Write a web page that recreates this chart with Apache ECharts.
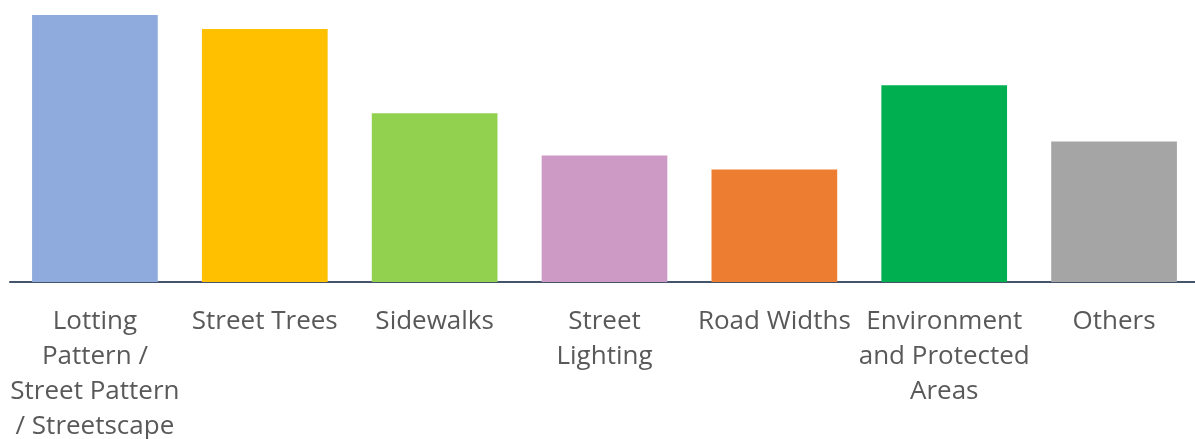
<!DOCTYPE html>
<html>
<head>
<meta charset="utf-8">
<script src="https://cdn.jsdelivr.net/npm/echarts@6/dist/echarts.min.js"></script>
<style>html,body{margin:0;padding:0;background:#fff;}#c{width:1195px;height:439px;}</style>
</head>
<body>
<div id="c"></div>
<script>
const categories = [
  "Lotting\nPattern /\nStreet Pattern\n/ Streetscape",
  "Street Trees",
  "Sidewalks",
  "Street\nLighting",
  "Road Widths",
  "Environment\nand Protected\nAreas",
  "Others"
];
const values = [19, 18, 12, 9, 8, 14, 10];
const barColors = ["#8FAADC", "#FFC000", "#92D050", "#CC9AC4", "#ED7D31", "#00B050", "#A5A5A5"];

const chart = echarts.init(document.getElementById('c'), null, {renderer: 'canvas'});
chart.setOption({
  animation: false,
  grid: {left: 10, right: -4, top: 15, bottom: 157, containLabel: false, outerBoundsMode: 'none'},
  xAxis: {
    type: 'category',
    data: categories,
    axisLine: {show: true, lineStyle: {color: '#44546A', width: 2}},
    axisTick: {show: false},
    axisLabel: {
      interval: 0,
      margin: 22,
      color: '#595959',
      fontFamily: 'Open Sans',
      fontSize: 26,
      lineHeight: 35,
      align: 'center',
      hideOverlap: false
    }
  },
  yAxis: {
    type: 'value', min: 0, max: 19,
    show: false,
    splitLine: {show: false}
  },
  series: [{
    type: 'bar',
    barWidth: '74%',
    data: values.map((v, i) => ({value: v, itemStyle: {color: barColors[i]}}))
  }]
});
</script>
</body>
</html>
